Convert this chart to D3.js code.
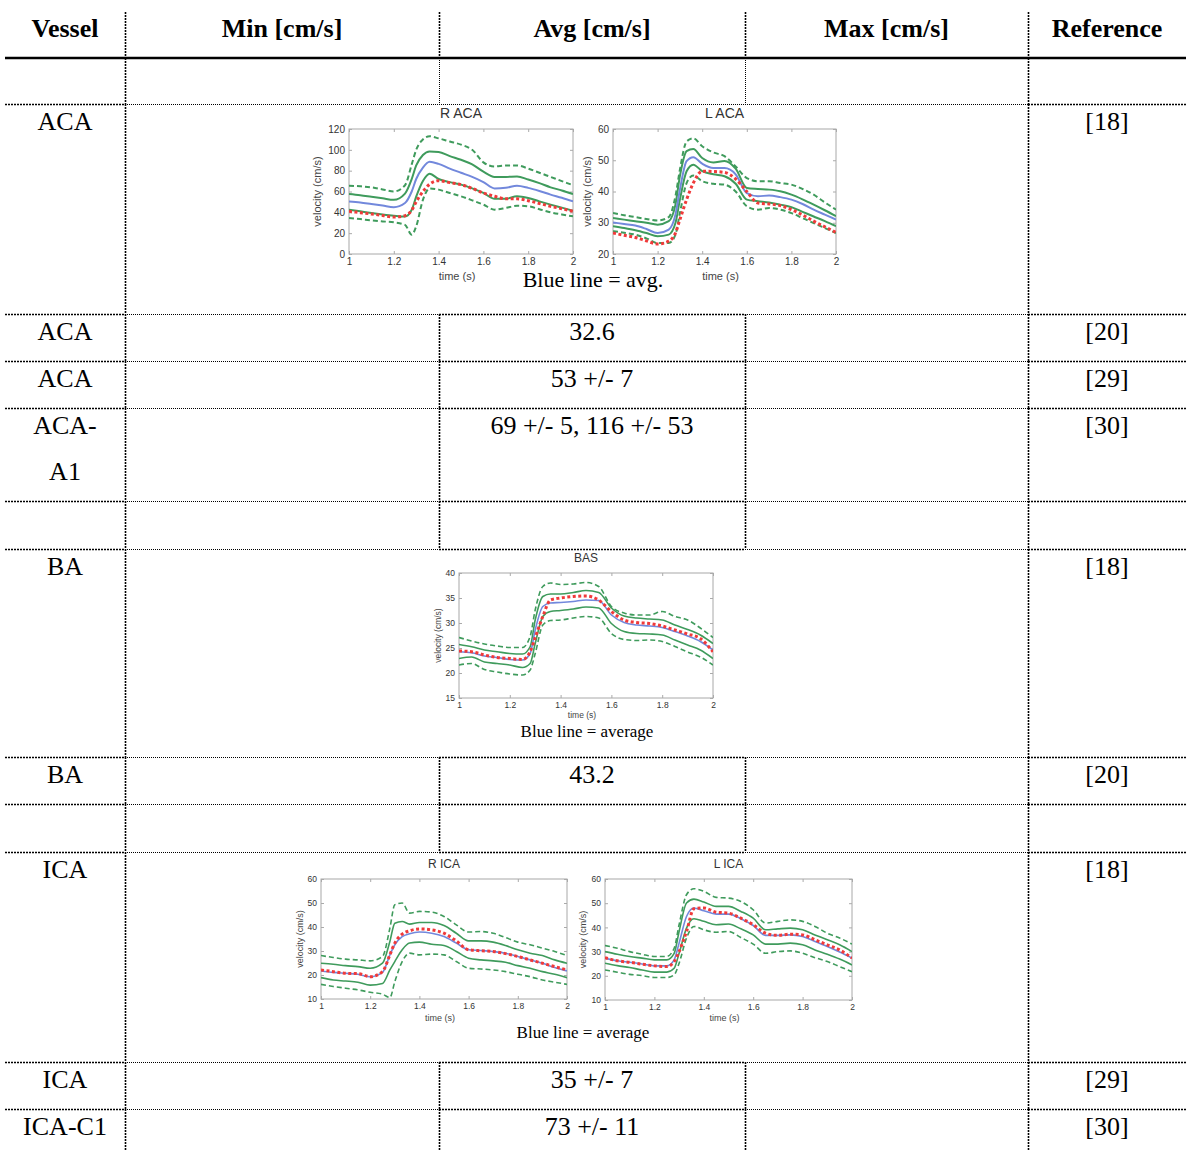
<!DOCTYPE html>
<meta charset="utf-8">
<script src="https://d3js.org/d3.v7.min.js"></script>
<style>
  body { margin: 0; background: #fff; }
</style>
<div id="my_dataviz"></div>
<script>

// ---------- table content ----------
var headers = ["Vessel", "Min [cm/s]", "Avg [cm/s]", "Max [cm/s]", "Reference"];
var vesselNames = ["", "ACA", "ACA", "ACA", "ACA-|A1", "", "BA", "BA", "", "ICA", "ICA", "ICA-C1"];
var minValues = ["", "", "", "", "", "", "", "", "", "", "", ""];
var avgValues = ["", "", "32.6", "53 +/- 7", "69 +/- 5, 116 +/- 53", "", "", "43.2", "", "", "35 +/- 7", "73 +/- 11"];
var maxValues = ["", "", "", "", "", "", "", "", "", "", "", ""];
var references = ["", "[18]", "[20]", "[29]", "[30]", "", "[18]", "[20]", "", "[18]", "[29]", "[30]"];
// row kind: empty, chart, data (boxed avg cell), box (empty boxed avg cell)
var rowKinds = ["empty", "chart", "data", "data", "data", "box", "chart", "data", "box", "chart", "data", "data"];

// ---------- velocity curves (cm/s), sampled on timeGrid (s) ----------
var timeGrid = [1.00, 1.05, 1.10, 1.15, 1.20, 1.25, 1.28, 1.30, 1.33, 1.36, 1.40, 1.45, 1.50, 1.55, 1.60, 1.65, 1.70, 1.75, 1.80, 1.85, 1.90, 1.95, 2.00];

// R ACA
var rAcaUp2  = [65.6, 65, 64, 62, 60, 66, 86, 100, 110, 113, 111, 108, 105, 100, 88, 84, 85, 85, 82, 78, 74, 70, 66];
var rAcaUp1  = [57.6, 56.5, 55, 53.5, 52, 58, 72, 85, 95, 98.5, 98, 94, 90.5, 86, 79, 74, 74, 74.5, 71.5, 68, 64, 61, 57.6];
var rAcaMean = [50.5, 49.5, 48, 46.5, 45, 49, 60, 72, 83, 88.5, 86.5, 82, 78, 74, 69, 63, 63.5, 65.5, 63.5, 60.5, 57, 54, 50.5];
var rAcaLo1  = [42.6, 41, 39.4, 38, 36.8, 36, 42.5, 55, 70, 77, 72, 69, 66.6, 63, 58.6, 53, 53, 55.4, 53.8, 50.5, 47.4, 44.5, 41.6];
var rAcaLo2  = [34.6, 33.5, 32.3, 31.3, 30.4, 28, 18.5, 26.5, 52, 63, 61.8, 58.5, 55.4, 51.5, 47.4, 42.6, 44.2, 46.4, 45.8, 43, 40, 38, 36.2];
var rAcaMeas = [41, 39.7, 38.4, 37, 35.5, 36.8, 42, 50, 60, 67, 70.4, 68.5, 66.6, 63, 58.6, 55.4, 53, 53, 51.2, 48.5, 45.8, 43.5, 41];

// L ACA
var lAcaUp2  = [33.1, 32.4, 31.8, 31.2, 30.7, 31.8, 38.5, 47, 56, 57, 54.5, 52.5, 51.3, 48, 44.3, 43.3, 43.3, 42.7, 42.2, 40.8, 39, 36.5, 34.2];
var lAcaUp1  = [31.5, 31, 30.5, 30, 29.4, 30.5, 35.8, 44.9, 52.9, 53.6, 50.7, 49.3, 49.8, 47.3, 41.1, 40.8, 40.6, 40.1, 39, 37.5, 35.8, 34, 32.1];
var lAcaMean = [30.1, 29.6, 29.1, 28, 26.7, 27.8, 32.6, 40.6, 49.7, 51, 48.9, 47.5, 47.5, 45.5, 39.5, 38.5, 38.7, 38.2, 37.4, 36, 34.2, 32.6, 31];
var lAcaLo1  = [28.9, 28.3, 27.6, 26.7, 25.7, 26.2, 29.9, 37.4, 46.5, 48.6, 46.5, 45.5, 44.9, 42.5, 37.4, 36.9, 36.5, 35.8, 35, 33.5, 32, 30.5, 28.9];
var lAcaLo2  = [27.3, 26.8, 26.2, 25, 23.5, 23.5, 26.2, 33.1, 42.7, 45.1, 43.3, 42.5, 42.2, 40, 35.3, 34.2, 34.7, 34.2, 33.1, 31.5, 29.9, 28.3, 26.7];
var lAcaMeas = [26.7, 26, 25.3, 24.2, 23.2, 24.1, 26.7, 31, 37.4, 42.7, 46.5, 46.4, 46.1, 44, 40, 36.3, 36, 35.5, 34.2, 32.5, 30.5, 28.7, 26.9];

// BAS
var basUp2  = [27.1, 26.4, 25.8, 25.4, 25.1, 25.1, 27.3, 32.6, 37.3, 38, 37.7, 37.8, 38.1, 37.3, 33.3, 32, 31.6, 31.6, 32.3, 31.3, 30.6, 29, 27.1];
var basUp1  = [25.7, 25.25, 24.6, 24.25, 23.9, 23.8, 25.25, 30.6, 35.3, 35.8, 35.8, 36.1, 36.5, 36.1, 33, 31.4, 31, 30.8, 30.6, 29.6, 28.7, 27.6, 25.9];
var basMean = [24.25, 24.05, 23.4, 23.1, 22.7, 22.6, 23.9, 28.6, 33.3, 34, 34.1, 34.3, 34.6, 34.5, 31.6, 30.1, 29.6, 29.4, 29.1, 28.3, 27.4, 26.3, 24.6];
var basLo1  = [22.9, 23.2, 22.2, 21.9, 21.6, 21.1, 21.9, 25.9, 31.3, 32.3, 32.5, 32.8, 33.2, 33, 29.9, 28.3, 27.9, 27.8, 27.6, 26.6, 25.6, 24.6, 22.9];
var basLo2  = [21.6, 21.9, 20.7, 20.2, 19.8, 19.6, 20.6, 23.9, 29.6, 30.5, 30.6, 31, 31.3, 31, 27.9, 26.7, 26.5, 26.6, 26.3, 25.3, 24.2, 23.2, 21.6];
var basMeas = [24.4, 24.25, 23.6, 23.1, 22.9, 22.7, 24.25, 27.1, 31.3, 34.6, 35, 35.3, 35.4, 34.6, 32.3, 30.6, 30.1, 29.9, 29.4, 28.6, 27.8, 26.9, 24.25];

// R ICA
var rIcaUp2  = [28.1, 27.3, 26.6, 26.3, 25.9, 27.7, 39.5, 49.3, 50, 45.8, 46.5, 46.2, 44.4, 40.9, 37.9, 38.1, 37.4, 35.6, 33.7, 32.6, 31.2, 29.8, 28.1];
var rIcaUp1  = [24.9, 24.5, 23.9, 23.5, 22.8, 24.9, 34, 41.6, 42.3, 41.2, 41.9, 41.9, 40.6, 37.4, 34.2, 34.2, 33.7, 32.3, 30.5, 29.1, 28.1, 26.3, 24.9];
var rIcaMean = [21.7, 21.1, 20.7, 20.3, 19.3, 21.1, 28.4, 32.6, 36, 37.2, 37.9, 37.4, 36, 33.3, 30.5, 30.2, 29.8, 29.1, 27.7, 26.3, 24.9, 23.1, 21.7];
var rIcaLo1  = [18.9, 17.9, 17.5, 17, 15.8, 16.5, 22.1, 25.6, 30.5, 33.3, 33.7, 32.8, 32.3, 29.8, 27, 26.3, 25.9, 25.3, 23.9, 22.8, 21.4, 20.3, 18.9];
var rIcaLo2  = [16.1, 15.2, 14.5, 13.8, 12.8, 12, 10.6, 17.2, 25.6, 29.1, 28.4, 28.7, 28.4, 25.6, 22.8, 22.5, 22.1, 21.4, 20.3, 19.3, 17.9, 17, 16.1];
var rIcaMeas = [22.1, 21.4, 20.7, 20.6, 19.3, 21.4, 28.4, 33.3, 37, 38.4, 39.2, 38.8, 37.4, 34.2, 30.5, 30.1, 29.8, 28.9, 27.7, 26.3, 24.9, 23.5, 22.1];

// L ICA
var lIcaUp2  = [32.5, 31.4, 30, 28.9, 28, 28, 31.4, 41.1, 53.5, 56, 54.9, 52.4, 52.1, 50.7, 47.3, 41.8, 42.5, 43.1, 42.5, 40.4, 37.6, 35.6, 33.1];
var lIcaUp1  = [30, 28.9, 28, 27.3, 26.6, 26.6, 29.3, 38.3, 50.1, 51.7, 50.5, 48.7, 48.7, 46.6, 43.8, 39, 39.4, 39.7, 39, 36.9, 34.9, 32.8, 30];
var lIcaMean = [27.3, 26.2, 25.6, 24.9, 24.1, 24.1, 26.6, 33.5, 44.5, 48, 46.9, 45.5, 45.5, 43.6, 40.8, 36.7, 36.7, 36.9, 36.2, 34.2, 32.1, 29.8, 27.3];
var lIcaLo1  = [25.2, 24.2, 23.4, 22.4, 21.5, 21.5, 23.1, 29.3, 39.7, 43.6, 42.5, 41.1, 41.4, 39.4, 36.9, 33.1, 33.1, 33.5, 32.8, 30.7, 28.9, 26.9, 24.5];
var lIcaLo2  = [22.4, 21.5, 20.6, 20.1, 19.3, 19.3, 20.4, 25.2, 35.6, 40.4, 39, 38, 38.3, 35.8, 33.1, 29.3, 30, 30.3, 29.3, 27.5, 25.9, 23.8, 21.7];
var lIcaMeas = [27.5, 26.2, 25.6, 24.8, 24.1, 23.8, 25.9, 30, 38.3, 47.7, 48, 46.3, 45.9, 43.8, 41.1, 37.6, 36.7, 37.2, 36.9, 34.9, 32.8, 30.7, 27.3];

var timeTicks = [1, 1.2, 1.4, 1.6, 1.8, 2];

// ---------- layout ----------
var W = 1186, H = 1150;
var colX = [5, 125, 439, 745, 1028, 1186];
var rowTops = [58, 104, 314, 361, 408, 501, 549, 757, 804, 852, 1062, 1109, 1150];

var svg = d3.select("#my_dataviz")
  .append("svg")
    .attr("width", W)
    .attr("height", H)
    .style("display", "block");

var serif = "'Liberation Serif', 'Times New Roman', serif";
var sans = "'Liberation Sans', Arial, Helvetica, sans-serif";

var heavyDash = "2,1", lightDash = "1,1";

function hLine(y, x0, x1, heavy) {
  svg.append("line")
    .attr("x1", x0).attr("x2", x1)
    .attr("y1", y + 0.5).attr("y2", y + 0.5)
    .attr("stroke", "#000")
    .attr("stroke-width", heavy ? 1.6 : 1)
    .attr("stroke-dasharray", heavy ? heavyDash : lightDash);
}
function vLine(x, y0, y1, heavy) {
  svg.append("line")
    .attr("x1", x + 0.5).attr("x2", x + 0.5)
    .attr("y1", y0).attr("y2", y1)
    .attr("stroke", "#000")
    .attr("stroke-width", heavy ? 1.6 : 1)
    .attr("stroke-dasharray", heavy ? heavyDash : lightDash);
}

// header
headers.forEach(function(h, i) {
  svg.append("text")
    .attr("x", (colX[i] + colX[i + 1]) / 2)
    .attr("y", 37)
    .attr("text-anchor", "middle")
    .style("font-family", serif)
    .style("font-weight", "bold")
    .style("font-size", "26px")
    .text(h);
});
[1, 2, 3, 4].forEach(function(c) { vLine(colX[c], 12, 58, true); });
svg.append("line")
  .attr("x1", colX[0]).attr("x2", W)
  .attr("y1", 58).attr("y2", 58)
  .attr("stroke", "#000")
  .attr("stroke-width", 2.5);

// horizontal separators
function boxed(k) { return k === "data" || k === "box"; }
for (var r = 1; r < rowKinds.length; r++) {
  var y = rowTops[r];
  var heavyAvg = boxed(rowKinds[r]) || boxed(rowKinds[r - 1]);
  hLine(y, colX[0], colX[1], true);
  hLine(y, colX[1], colX[2], false);
  hLine(y, colX[2], colX[3], heavyAvg);
  hLine(y, colX[3], colX[4], false);
  hLine(y, colX[4], colX[5], true);
}

// vertical separators per row
rowKinds.forEach(function(k, r) {
  var y0 = rowTops[r], y1 = rowTops[r + 1];
  vLine(colX[1], y0, y1, true);
  vLine(colX[4], y0, y1, true);
  if (k !== "chart") {
    vLine(colX[2], y0, y1, boxed(k));
    vLine(colX[3], y0, y1, boxed(k));
  }
});

// cell texts
function cellText(txt, col, r) {
  if (!txt) return;
  txt.split("|").forEach(function(line, j) {
    svg.append("text")
      .attr("x", (colX[col] + colX[col + 1]) / 2)
      .attr("y", rowTops[r] + 26 + j * 46)
      .attr("text-anchor", "middle")
      .style("font-family", serif)
      .style("font-size", "26px")
      .text(line);
  });
}
rowKinds.forEach(function(k, r) {
  cellText(vesselNames[r], 0, r);
  cellText(minValues[r], 1, r);
  cellText(avgValues[r], 2, r);
  cellText(maxValues[r], 3, r);
  cellText(references[r], 4, r);
});

// ---------- velocity panels ----------
var green = "#3f9b5c", blue = "#7288dc", red = "#f03a3a";

var panels = [
  { title: "R ACA", left: 349, right: 573, top: 129, bottom: 254, yDomain: [0, 120], yStep: 20,
    tickFs: 10, labFs: 11, titleFs: 14, ylabX: 317, xlabOff: 26, lw: 2,
    up2: rAcaUp2, up1: rAcaUp1, mean: rAcaMean, lo1: rAcaLo1, lo2: rAcaLo2, meas: rAcaMeas },
  { title: "L ACA", left: 613, right: 836, top: 129, bottom: 254, yDomain: [20, 60], yStep: 10,
    tickFs: 10, labFs: 11, titleFs: 14, ylabX: 587, xlabOff: 26, lw: 2,
    up2: lAcaUp2, up1: lAcaUp1, mean: lAcaMean, lo1: lAcaLo1, lo2: lAcaLo2, meas: lAcaMeas },
  { title: "BAS", left: 459, right: 713, top: 573, bottom: 698, yDomain: [15, 40], yStep: 5,
    tickFs: 8.5, labFs: 8.5, titleFs: 12, ylabX: 438, xlabOff: 20, lw: 1.6,
    up2: basUp2, up1: basUp1, mean: basMean, lo1: basLo1, lo2: basLo2, meas: basMeas },
  { title: "R ICA", left: 321, right: 567, top: 879, bottom: 999, yDomain: [10, 60], yStep: 10,
    tickFs: 8.5, labFs: 9, titleFs: 12, ylabX: 300, xlabOff: 22, lw: 1.6,
    up2: rIcaUp2, up1: rIcaUp1, mean: rIcaMean, lo1: rIcaLo1, lo2: rIcaLo2, meas: rIcaMeas },
  { title: "L ICA", left: 605, right: 852, top: 879, bottom: 1000, yDomain: [10, 60], yStep: 10,
    tickFs: 8.5, labFs: 9, titleFs: 12, ylabX: 583, xlabOff: 21, lw: 1.6,
    up2: lIcaUp2, up1: lIcaUp1, mean: lIcaMean, lo1: lIcaLo1, lo2: lIcaLo2, meas: lIcaMeas }
];

function drawPanel(p, idx) {
  var x = d3.scaleLinear().domain([1, 2]).range([p.left, p.right]);
  var y = d3.scaleLinear().domain(p.yDomain).range([p.bottom, p.top]);
  var yTicks = d3.range(p.yDomain[0], p.yDomain[1] + 0.001, p.yStep);
  var g = svg.append("g");

  g.append("clipPath").attr("id", "clip" + idx)
    .append("rect")
      .attr("x", p.left).attr("y", p.top)
      .attr("width", p.right - p.left).attr("height", p.bottom - p.top);

  g.append("rect")
    .attr("x", p.left).attr("y", p.top)
    .attr("width", p.right - p.left).attr("height", p.bottom - p.top)
    .attr("fill", "#fff")
    .attr("stroke", "#a8a8a8")
    .attr("stroke-width", 1);

  var fmt = d3.format("~g");
  var ax = [
    g.append("g").attr("transform", "translate(0," + p.bottom + ")")
      .call(d3.axisBottom(x).tickValues(timeTicks).tickFormat(fmt).tickSize(-3).tickPadding(4)),
    g.append("g").attr("transform", "translate(0," + p.top + ")")
      .call(d3.axisTop(x).tickValues(timeTicks).tickFormat("").tickSize(-3)),
    g.append("g").attr("transform", "translate(" + p.left + ",0)")
      .call(d3.axisLeft(y).tickValues(yTicks).tickFormat(fmt).tickSize(-3).tickPadding(4)),
    g.append("g").attr("transform", "translate(" + p.right + ",0)")
      .call(d3.axisRight(y).tickValues(yTicks).tickFormat("").tickSize(-3))
  ];
  ax.forEach(function(a) {
    a.select(".domain").remove();
    a.selectAll(".tick line").attr("stroke", "#aaa");
    a.selectAll("text")
      .style("font-family", sans)
      .style("font-size", p.tickFs + "px")
      .attr("fill", "#333");
  });

  // title and labels
  g.append("text")
    .attr("x", (p.left + p.right) / 2)
    .attr("y", p.top - 11)
    .attr("text-anchor", "middle")
    .style("font-family", sans)
    .style("font-size", p.titleFs + "px")
    .attr("fill", "#333")
    .text(p.title);
  g.append("text")
    .attr("x", (p.left + p.right) / 2 - 4)
    .attr("y", p.bottom + p.xlabOff)
    .attr("text-anchor", "middle")
    .style("font-family", sans)
    .style("font-size", p.labFs + "px")
    .attr("fill", "#444")
    .text("time (s)");
  g.append("text")
    .attr("transform", "translate(" + (p.ylabX + p.labFs * 0.35) + "," + (p.top + p.bottom) / 2 + ") rotate(-90)")
    .attr("text-anchor", "middle")
    .style("font-family", sans)
    .style("font-size", p.labFs + "px")
    .attr("fill", "#444")
    .text("velocity (cm/s)");

  var line = d3.line()
    .x(function(d, i) { return x(timeGrid[i]); })
    .y(function(d) { return y(d); })
    .curve(d3.curveMonotoneX);

  var curves = g.append("g").attr("clip-path", "url(#clip" + idx + ")");
  var specs = [
    { v: p.up2, c: green, dash: "5,3" },
    { v: p.lo2, c: green, dash: "5,3" },
    { v: p.up1, c: green, dash: null },
    { v: p.lo1, c: green, dash: null },
    { v: p.mean, c: blue, dash: null },
    { v: p.meas, c: red, dash: "3,2.5", w: 3 }
  ];
  specs.forEach(function(s) {
    curves.append("path")
      .attr("d", line(s.v))
      .attr("fill", "none")
      .attr("stroke", s.c)
      .attr("stroke-width", s.w || p.lw)
      .attr("stroke-dasharray", s.dash);
  });
}
panels.forEach(drawPanel);

// captions under the panels
var captions = [
  { text: "Blue line = avg.", x: 593, y: 287, fs: 22 },
  { text: "Blue line = average", x: 587, y: 737, fs: 17 },
  { text: "Blue line = average", x: 583, y: 1038, fs: 17 }
];
captions.forEach(function(c) {
  svg.append("text")
    .attr("x", c.x).attr("y", c.y)
    .attr("text-anchor", "middle")
    .style("font-family", serif)
    .style("font-size", c.fs + "px")
    .text(c.text);
});

</script>
